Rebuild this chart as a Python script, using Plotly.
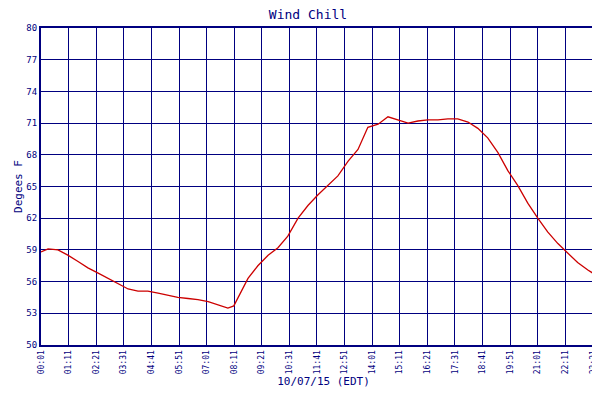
import plotly.graph_objects as go

# minutes since midnight
minutes = [1, 19, 44, 69, 95, 120, 146, 171, 196, 222, 247, 272, 298, 323, 348, 374,
           399, 425, 450, 475, 490, 506, 526, 551, 577, 602, 627, 653, 678, 703, 729,
           754, 780, 805, 830, 856, 881, 906, 932, 957, 982, 1008, 1033, 1058, 1084,
           1109, 1134, 1160, 1185, 1210, 1236, 1261, 1286, 1312, 1337, 1362, 1388,
           1413, 1434]
wind_chill = [58.8, 59.1, 59.0, 58.5, 57.9, 57.3, 56.8, 56.3, 55.8, 55.3, 55.1, 55.1,
              54.9, 54.7, 54.5, 54.4, 54.3, 54.1, 53.8, 53.5, 53.7, 54.9, 56.3, 57.5,
              58.5, 59.2, 60.3, 62.0, 63.2, 64.2, 65.1, 66.0, 67.4, 68.5, 70.6, 70.9,
              71.6, 71.3, 71.0, 71.2, 71.3, 71.3, 71.4, 71.4, 71.1, 70.5, 69.6, 68.2,
              66.5, 65.1, 63.4, 62.0, 60.7, 59.6, 58.7, 57.8, 57.1, 56.5, 55.8]
tick_labels = ["00:01", "01:11", "02:21", "03:31", "04:41", "05:51", "07:01", "08:11",
               "09:21", "10:31", "11:41", "12:51", "14:01", "15:11", "16:21", "17:31",
               "18:41", "19:51", "21:01", "22:11", "23:21", "23:54"]
y_ticks = [50, 53, 56, 59, 62, 65, 68, 71, 74, 77, 80]

def to_min(s):
    h, m = s.split(":")
    return int(h) * 60 + int(m)

tick_vals = [to_min(t) for t in tick_labels]

navy = "#000080"
font = "DejaVu Sans Mono"

fig = go.Figure()
fig.add_trace(go.Scatter(x=minutes, y=wind_chill, mode="lines", name="Wind Chill",
                         line=dict(color="#cc0000", width=1.3)))

fig.update_layout(
    width=600, height=400,
    margin=dict(l=33, r=2, t=20, b=63, autoexpand=False),
    paper_bgcolor="white", plot_bgcolor="white",
    title=dict(text="Wind Chill", x=0.5, xanchor="center", y=0.995, yanchor="top",
               font=dict(family=font, size=13, color=navy)),
    font=dict(family=font, color=navy, size=9),
    showlegend=True,
    legend=dict(orientation="h", x=0.5, xanchor="center", y=-0.17, yanchor="top",
                font=dict(size=9, color=navy)),
    xaxis=dict(range=[1, 1434], tickvals=tick_vals, ticktext=tick_labels,
               tickangle=-90, showgrid=True, gridcolor=navy, gridwidth=1,
               showline=True, linecolor=navy, linewidth=2, mirror=True,
               automargin=False,
               title=dict(text="10/07/15 (EDT)", font=dict(size=11, color=navy),
                          standoff=4),
               tickfont=dict(size=8), zeroline=False),
    yaxis=dict(range=[50, 80], tickvals=y_ticks, showgrid=True, gridcolor=navy,
               gridwidth=1, showline=True, linecolor=navy, linewidth=2, mirror=True,
               automargin=False,
               title=dict(text="Degees F", font=dict(size=11, color=navy), standoff=2),
               tickfont=dict(size=9), zeroline=False),
)

fig.write_html("out.html")
